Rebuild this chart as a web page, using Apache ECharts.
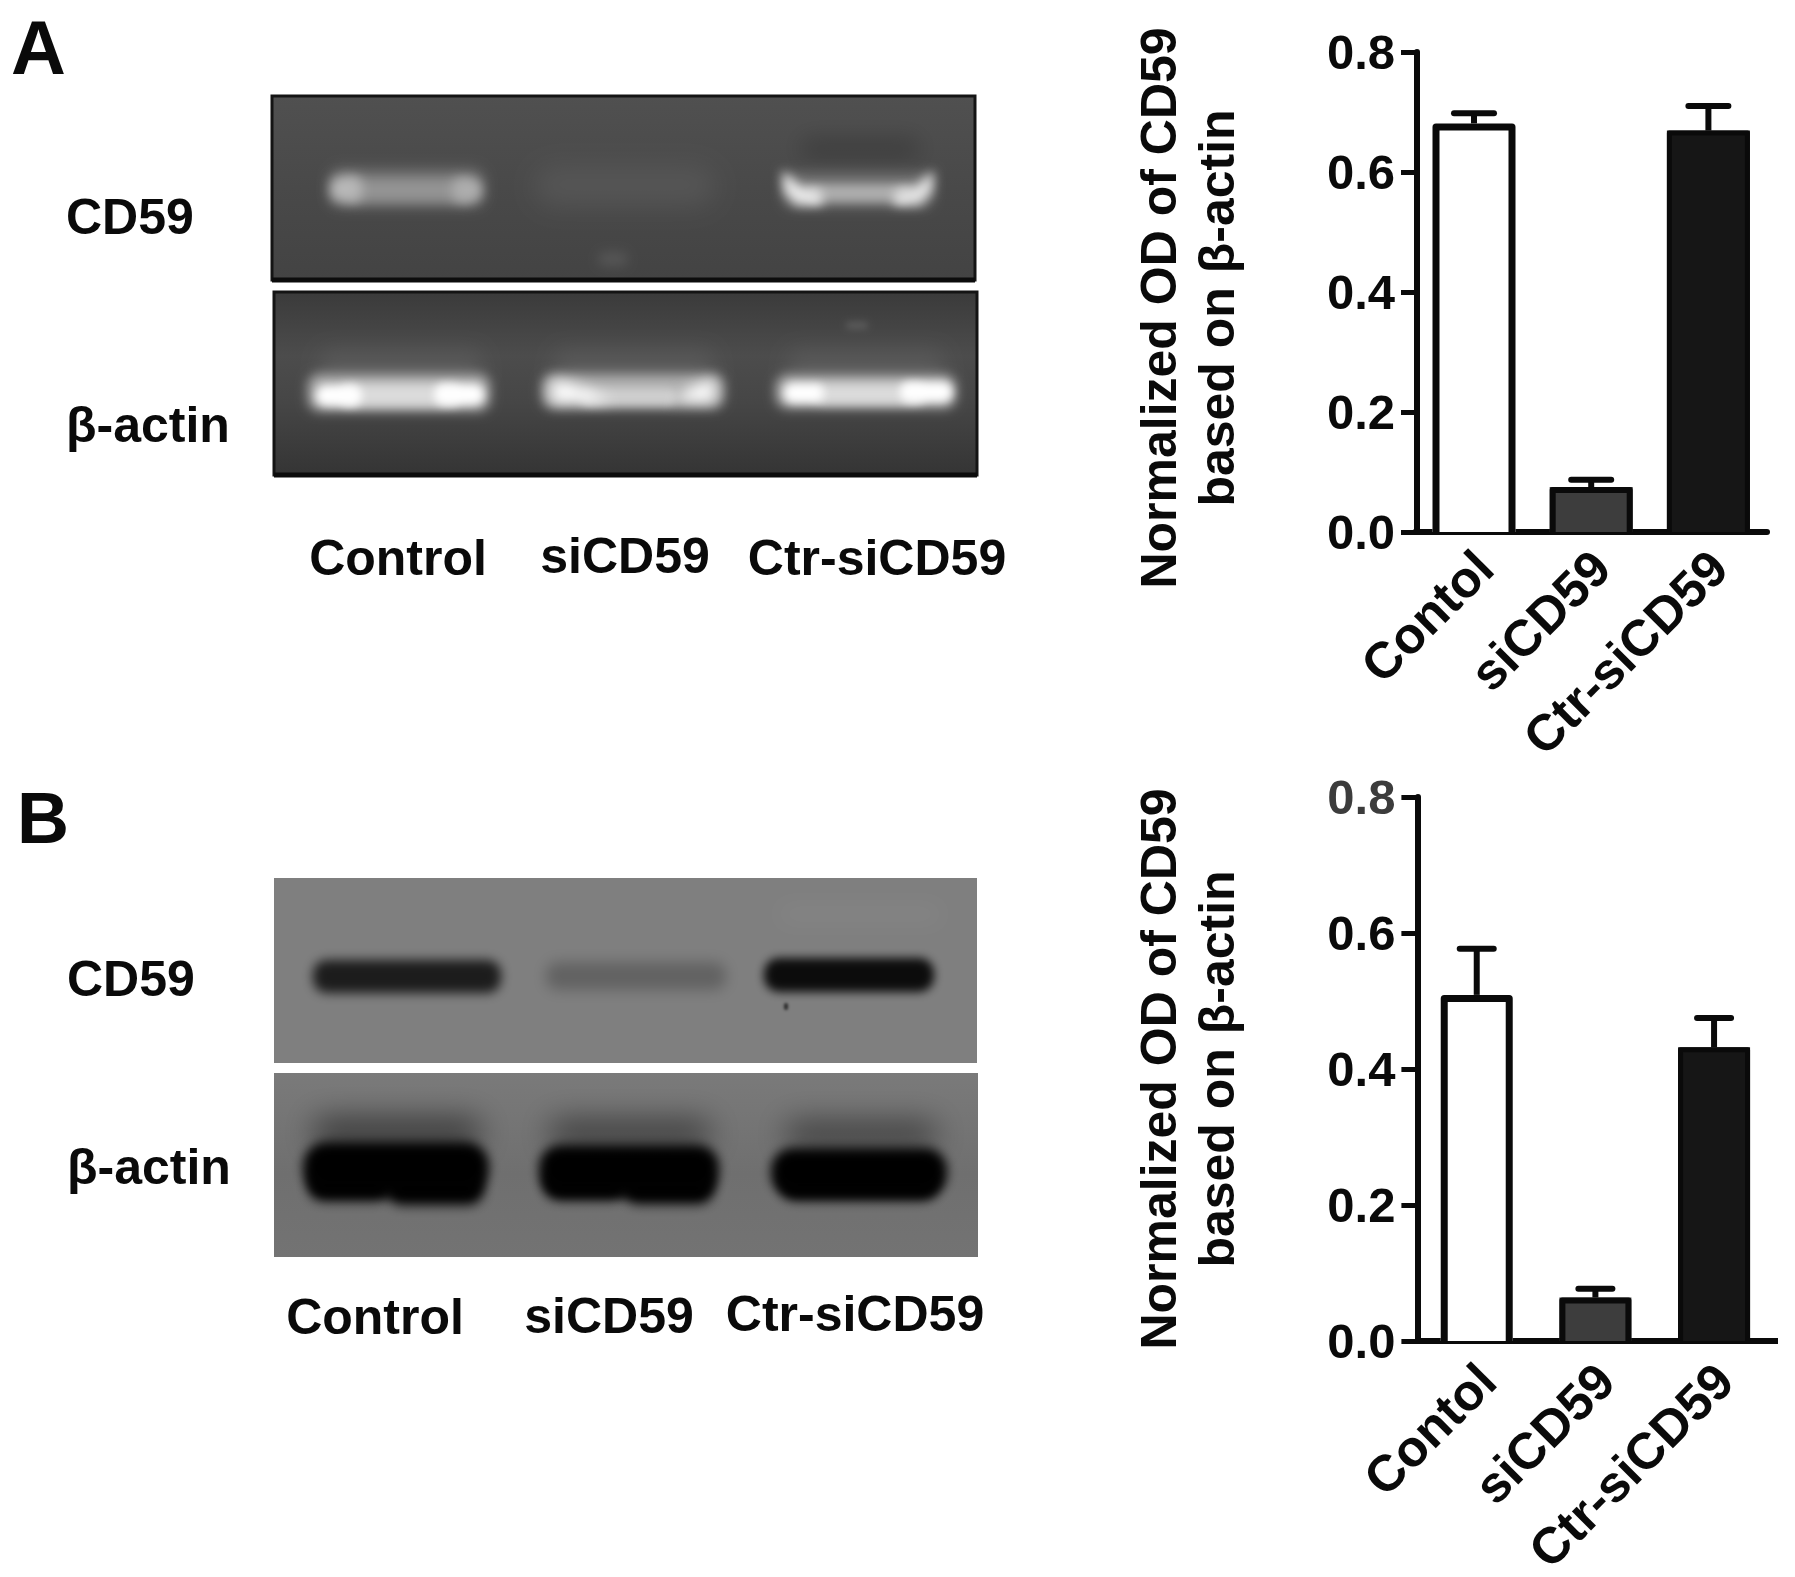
<!DOCTYPE html>
<html><head><meta charset="utf-8">
<style>html,body{margin:0;padding:0;background:#fff}#c{width:1795px;height:1577px}</style>
<script src="https://cdn.jsdelivr.net/npm/echarts@6/dist/echarts.min.js"></script>
</head><body><div id="c"></div>
<script>
const categories = ['Contol', 'siCD59', 'Ctr-siCD59'];
const yTicks = [0, 0.2, 0.4, 0.6, 0.8];
const meanA = [0.681, 0.075, 0.669];
const upperA = [0.698, 0.087, 0.710];
const meanB = [0.509, 0.064, 0.432];
const upperB = [0.577, 0.077, 0.475];
const yTitle = 'Normalized OD of CD59\nbased on β-actin';
const gelLanes = ['Control', 'siCD59', 'Ctr-siCD59'];
const gelProbes = ['CD59', 'β-actin'];

const FONT = '"Liberation Sans", Arial, sans-serif';
const INK = '#0a0a0a';
const barColors = ['#ffffff', '#3d3d3d', '#161616'];
const barEdge = [7, 6, 5];

function txt(text, x, y, size, align) {
  return {type:'text', x, y, z:10, style:{text, fontFamily:FONT, fontWeight:'bold', fontSize:size, fill:INK, textAlign:align||'left', textVerticalAlign:'middle'}};
}
function panel(x, y, w, h, fill, stroke, lw) {
  return {type:'rect', z:1, shape:{x, y, width:w, height:h}, style:{fill, stroke:stroke||null, lineWidth:stroke?(lw||3):0}};
}
// soft gel smear: only the blurred shadow of an off-canvas rectangle is visible
function blob(x, y, w, h, color, blur, r) {
  return {type:'rect', z:3, silent:true, shape:{x:x-4000, y, width:w, height:h, r:r===undefined?Math.min(w,h)/2:r},
    style:{fill:color, shadowColor:color, shadowBlur:blur, shadowOffsetX:4000}};
}
function wedge(points, color, blur) {
  return {type:'polygon', z:3, silent:true, shape:{points:points.map(p=>[p[0]-4000,p[1]])},
    style:{fill:color, shadowColor:color, shadowBlur:blur, shadowOffsetX:4000}};
}
function gradV(stops){return {type:'linear',x:0,y:0,x2:0,y2:1,colorStops:stops};}

const gelA = [
  panel(272,96,703,184,gradV([{offset:0,color:'#505050'},{offset:.5,color:'#494949'},{offset:1,color:'#434343'}]),'#141414'),
  panel(274,292,703,183,gradV([{offset:0,color:'#3a3a3a'},{offset:.35,color:'#4c4c4c'},{offset:.6,color:'#464646'},{offset:1,color:'#343434'}]),'#141414'),
  // top gel background variation
  blob(800,138,120,22,'#3e3e3e',22),
  blob(535,165,180,40,'#555555',26),
  blob(598,252,30,14,'#565656',12),
  // CD59 control
  blob(330,168,154,39,'#6a6a6a',14,12),
  blob(345,178,128,24,'#949494',12,8),
  blob(330,176,32,26,'#b8b8b8',12,10),
  blob(452,178,30,24,'#aeaeae',12,10),
  // CD59 Ctr
  blob(782,172,152,36,'#6c6c6c',12,12),
  blob(806,184,106,18,'#aeaeae',10,8),
  wedge([[782,170],[798,184],[822,192],[822,205],[796,205],[784,192]],'#e8e8e8',11),
  wedge([[934,170],[918,184],[894,192],[894,205],[920,205],[932,192]],'#e2e2e2',11),
  // actin haloes
  blob(320,352,162,32,'#5a5a5a',22,10),
  blob(554,352,160,32,'#5a5a5a',22,10),
  blob(788,352,156,32,'#5a5a5a',22,10),
  blob(846,322,22,7,'#5c5c5c',7),
  // actin bands
  blob(308,374,182,37,'#aeaeae',12,12),
  blob(542,374,182,34,'#aeaeae',12,12),
  blob(776,375,180,33,'#b2b2b2',12,12),
  blob(340,384,120,22,'#dcdcdc',10,8),
  blob(580,388,96,17,'#d0d0d0',10,7),
  blob(815,384,110,20,'#dcdcdc',10,8),
  blob(316,385,46,21,'#ffffff',9,10),
  blob(434,384,50,21,'#ffffff',9,10),
  wedge([[552,380],[574,384],[612,401],[552,403]],'#ffffff',14),
  wedge([[714,379],[714,402],[672,401],[690,388]],'#ffffff',14),
  blob(784,383,40,20,'#ffffff',9,9),
  blob(900,382,52,20,'#ffffff',9,9)
];
const gelB = [
  panel(274,878,703,185,'#7f7f7f'),
  panel(274,1073,704,184,gradV([{offset:0,color:'#7a7a7a'},{offset:.55,color:'#6f6f6f'},{offset:1,color:'#737373'}])),
  blob(780,905,160,18,'#848484',20),
  // CD59
  blob(313,960,188,33,'#1c1c1c',11,14),
  blob(546,962,180,28,'#626262',14,12),
  blob(764,958,170,34,'#0c0c0c',10,15),
  blob(784,1003,4,7,'#2a2a2a',3,2),
  // smear above actin
  blob(314,1118,166,30,'#3a3a3a',30,10),
  blob(550,1120,160,28,'#3e3e3e',30,10),
  blob(786,1122,150,26,'#3e3e3e',30,10),
  // actin
  blob(303,1142,186,52,'#000000',11,24),
  blob(308,1170,84,31,'#000000',12,15),
  blob(386,1172,98,33,'#000000',12,16),
  blob(539,1145,180,50,'#000000',11,22),
  blob(544,1170,84,30,'#000000',12,15),
  blob(622,1172,92,32,'#000000',12,16),
  blob(771,1148,176,48,'#000000',11,22),
  blob(780,1170,158,30,'#000000',12,15)
];
const frameFix = [
  {type:'line', z:4, shape:{x1:272,y1:280,x2:975,y2:280}, style:{stroke:'#0c0c0c',lineWidth:5}},
  {type:'line', z:4, shape:{x1:274,y1:475,x2:977,y2:475}, style:{stroke:'#0c0c0c',lineWidth:5}}
];
const labels = [
  txt('A',11,53,76), txt('B',17,823,72),
  txt(gelProbes[0],66,220.5,50), txt(gelProbes[1],66,428.5,50),
  txt(gelProbes[0],67,982.5,50), txt(gelProbes[1],67,1170.5,50),
  txt(gelLanes[0],398,561.5,50,'center'), txt(gelLanes[1],625,559.5,50,'center'), txt(gelLanes[2],877,561.5,50,'center'),
  txt(gelLanes[0],375,1320.5,50,'center'), txt(gelLanes[1],609,1319.5,50,'center'), txt(gelLanes[2],855,1317.5,50,'center')
];
// short tail of panel B's x axis beyond its last band
const tails = [
  {type:'line', z:5, shape:{x1:1773,y1:1341,x2:1778,y2:1341}, style:{stroke:INK,lineWidth:6}}
];

function axes(gridIndex, grayTop, titlePad, margin, yOffset) {
  return {
    x:{type:'category', gridIndex, data:categories, boundaryGap:true,
      axisLine:{lineStyle:{color:INK,width:6}},
      axisTick:{alignWithLabel:true,length:14,lineStyle:{color:INK,width:5}},
      axisLabel:{interval:0,rotate:45,margin,verticalAlign:'top',lineHeight:36,fontFamily:FONT,fontWeight:'bold',fontSize:51,color:INK}},
    y:{type:'value', gridIndex, min:0, max:0.8, interval:0.2, splitLine:{show:false}, offset:yOffset,
      name:yTitle, nameLocation:'middle', nameGap:168, nameRotate:90,
      nameTextStyle:{fontFamily:FONT,fontWeight:'bold',fontSize:50,lineHeight:58,color:INK,padding:titlePad},
      axisLine:{show:true,lineStyle:{color:INK,width:6}},
      axisTick:{show:true,length:16,lineStyle:{color:INK,width:5}},
      axisLabel:{margin:22,verticalAlign:'top',lineHeight:7,fontFamily:FONT,fontWeight:'bold',fontSize:49,
        formatter:v=>yTicks.includes(+v.toFixed(1))?v.toFixed(1):'',
        color:v=>(grayTop&&Math.abs(v-0.8)<1e-6)?'#3c3c3c':INK}}
  };
}
function barSeries(xi, mean, bw) {
  return {type:'bar', xAxisIndex:xi, yAxisIndex:xi, barWidth:bw, z:3,
    data:mean.map((v,i)=>({value:v,itemStyle:{color:barColors[i]}}))};
}
// open-bottomed bar outline plus the upper error whisker
function errSeries(xi, mean, upper, cap, bw) {
  return {type:'custom', xAxisIndex:xi, yAxisIndex:xi, z:4,
    encode:{x:0,y:[1,2]},
    data:mean.map((v,i)=>[i,v,upper[i],0]),
    renderItem(p,api){
      const i=api.value(0), a=api.coord([i,api.value(1)]), b=api.coord([i,api.value(2)]), o=api.coord([i,0]);
      const st={stroke:INK,lineWidth:6,fill:null};
      const lw=barEdge[i], hw=bw/2-lw/2, top=a[1]+lw/2;
      return {type:'group',children:[
        {type:'line',shape:{x1:a[0],y1:a[1],x2:b[0],y2:b[1]},style:st},
        {type:'line',shape:{x1:a[0]-cap,y1:b[1],x2:a[0]+cap,y2:b[1]},style:{...st,lineCap:'round'}},
        {type:'polyline',shape:{points:[[a[0]-hw,o[1]],[a[0]-hw,top],[a[0]+hw,top],[a[0]+hw,o[1]]]},style:{stroke:INK,lineWidth:lw,fill:null,lineJoin:'round'}}
      ]};
    }};
}
const A = axes(0,false,[0,32,0,0],17,-1.6), B = axes(1,true,[0,0,0,0],21,0);
const chart = echarts.init(document.getElementById('c'), null, {renderer:'canvas'});
chart.setOption({
  animation:false, backgroundColor:'#fff',
  grid:[
    {left:1415.4, width:351.6, top:52, height:480, outerBoundsMode:'none'},
    {left:1417.4, width:356, top:797, height:544, outerBoundsMode:'none'}
  ],
  xAxis:[A.x,B.x], yAxis:[A.y,B.y],
  series:[
    barSeries(0,meanA,83), errSeries(0,meanA,upperA,20,83),
    barSeries(1,meanB,72), errSeries(1,meanB,upperB,17,72)
  ],
  graphic:[...gelA,...gelB,...frameFix,...labels,...tails]
});
</script></body></html>
